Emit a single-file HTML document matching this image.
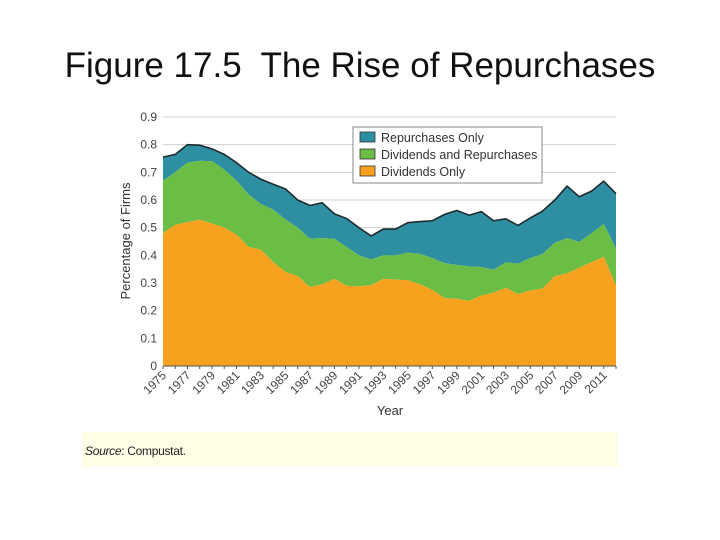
<!DOCTYPE html>
<html><head><meta charset="utf-8"><style>
body{margin:0;width:720px;height:540px;background:#fff;overflow:hidden;font-family:"Liberation Sans",sans-serif}
#title{position:absolute;left:0;width:720px;top:46px;text-align:center;font-size:35px;color:#111}
#src{position:absolute;left:82px;top:432px;width:536px;height:35px;background:#fffde5}
#src span{position:absolute;left:3px;top:12px;font-size:12px;color:#222;letter-spacing:-0.3px}
svg{position:absolute;left:0;top:0}
</style></head><body>
<div id="title">Figure 17.5&nbsp; The Rise of Repurchases</div>
<div id="src"><span><i>Source</i>: Compustat.</span></div>
<svg id="chart" width="720" height="540"></svg>
<script>
const years=[];for(let y=1975;y<=2012;y++)years.push(y);
const divOnly=[.48,.51,.52,.528,.515,.50,.475,.43,.42,.375,.34,.325,.285,.295,.315,.29,.288,.292,.315,.312,.31,.295,.275,.245,.243,.235,.255,.265,.283,.26,.273,.28,.325,.335,.355,.375,.395,.29];
const divAndRep=[.67,.70,.735,.742,.74,.71,.67,.62,.585,.565,.53,.50,.46,.462,.46,.43,.40,.385,.40,.40,.41,.405,.39,.372,.365,.36,.358,.348,.375,.37,.39,.405,.445,.462,.448,.48,.513,.425];
const repTotal=[.755,.765,.80,.798,.785,.765,.735,.70,.675,.657,.64,.60,.58,.59,.55,.533,.50,.47,.495,.495,.518,.522,.525,.548,.562,.545,.558,.525,.532,.508,.535,.56,.60,.65,.612,.632,.668,.623];
const yTicks=[0,.1,.2,.3,.4,.5,.6,.7,.8,.9];
const yTickLabels=["0","0.1","0.2","0.3","0.4","0.5","0.6","0.7","0.8","0.9"];
const X0=163,X1=616,Y0=366,Y1=117;
const xs=y=>X0+(y-1975)*(X1-X0)/(2012-1975);
const ys=v=>Y0-v*(Y0-Y1)/0.9;
const svg=document.getElementById('chart');const NS='http://www.w3.org/2000/svg';
function mk(t,a){const e=document.createElementNS(NS,t);for(const k in a)e.setAttribute(k,a[k]);svg.appendChild(e);return e;}
yTicks.forEach((v,i)=>{
 if(v>0){const g=mk('line',{x1:X0,x2:X1,y1:ys(v),y2:ys(v),stroke:'#cfcfcf','stroke-width':1});
 
 }
 const t=mk('text',{x:157,y:ys(v)+4,'text-anchor':'end','font-size':12,fill:'#444'});t.textContent=yTickLabels[i];
 
 
});
function area(top,bot,color,name){
 let d='M'+years.map((y,i)=>xs(y)+','+ys(top[i])).join('L');
 for(let i=years.length-1;i>=0;i--)d+='L'+xs(years[i])+','+(bot?ys(bot[i]):Y0);
 const p=mk('path',{d:d+'Z',fill:color});
 
 
}
area(repTotal,divAndRep,'#2f8fa2','area-repurchases-only');
area(divAndRep,divOnly,'#6cbd45','area-dividends-and-repurchases');
area(divOnly,null,'#f8a11e','area-dividends-only');
const tl=mk('polyline',{points:years.map((y,i)=>xs(y)+','+ys(repTotal[i])).join(' '),fill:'none',stroke:'#1d2b2f','stroke-width':1.6});


const ax=mk('line',{x1:X0,x2:X1,y1:Y0,y2:Y0,stroke:'#555','stroke-width':1});


years.forEach(y=>{
 const tk=mk('line',{x1:xs(y),x2:xs(y),y1:Y0,y2:Y0+3,stroke:'#555','stroke-width':1});
 
 
 if((y-1975)%2===0){const t=mk('text',{x:xs(y)+4,y:Y0+10,'text-anchor':'end','font-size':12,fill:'#444',transform:`rotate(-45 ${xs(y)+4} ${Y0+10})`});t.textContent=y;
 
 }
});
const xt=mk('text',{x:390,y:415,'text-anchor':'middle','font-size':13,fill:'#333'});xt.textContent='Year';


const yt=mk('text',{x:130,y:241,'text-anchor':'middle','font-size':13,fill:'#333',transform:'rotate(-90 130 241)'});yt.textContent='Percentage of Firms';


const lb=mk('rect',{x:353,y:127,width:189,height:56,fill:'#fff',stroke:'#888','stroke-width':1});


const leg=['Repurchases Only','Dividends and Repurchases','Dividends Only'];
const legC=['#2f8fa2','#6cbd45','#f8a11e'];
leg.forEach((s,i)=>{
 const r=mk('rect',{x:360,y:132+i*17,width:15,height:10,fill:legC[i],stroke:'#333','stroke-width':0.8});
 
 
 const t=mk('text',{x:381,y:142+i*17,'font-size':12.5,fill:'#333'});t.textContent=s;
 
 
});
</script>
</body></html>
